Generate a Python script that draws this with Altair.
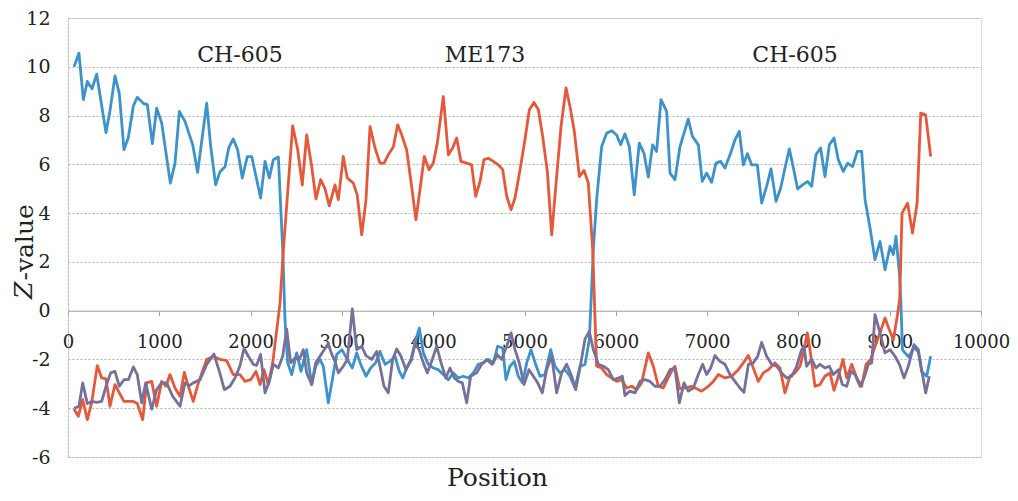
import altair as alt
import pandas as pd

# ---- series: blue (CH-605 probe) ----
blue_pos = [66, 120, 168, 212, 263, 314, 416, 460, 515, 562, 613, 661, 716, 759, 825, 869, 924, 971,
            1026, 1121, 1172, 1220, 1281, 1366, 1420, 1519, 1563, 1617, 1665, 1720, 1760, 1810, 1858,
            1909, 1964, 2012, 2110, 2158, 2205, 2249, 2304, 2352, 2377, 2406, 2450, 2505, 2552, 2614,
            2669, 2713, 2760, 2796, 2851, 2895, 2943, 3000, 3059, 3114, 3162, 3206, 3264, 3315, 3370,
            3417, 3472, 3527, 3582, 3629, 3666, 3710, 3764, 3811, 3848, 3892, 3946, 4001, 4056, 4111,
            4166, 4220, 4275, 4330, 4385, 4440, 4494, 4549, 4604, 4659, 4706, 4761, 4797, 4841, 4888,
            4932, 4980, 5024, 5071, 5122, 5170, 5224, 5287, 5334, 5389, 5444, 5498, 5553, 5608, 5663,
            5710, 5754, 5790, 5845, 5900, 5955, 6009, 6053, 6100, 6148, 6202, 6257, 6308, 6356, 6403,
            6447, 6495, 6557, 6594, 6648, 6703, 6747, 6794, 6838, 6904, 6947, 6995, 7049, 7097, 7148,
            7196, 7251, 7305, 7353, 7397, 7441, 7488, 7550, 7598, 7652, 7700, 7755, 7806, 7853, 7901,
            7945, 7992, 8046, 8101, 8145, 8192, 8243, 8291, 8339, 8390, 8437, 8492, 8540, 8594, 8645,
            8693, 8730, 8784, 8839, 8894, 8949, 9004, 9040, 9069, 9106, 9122, 9140, 9168, 9210, 9266,
            9314, 9350, 9405, 9449]
blue_val = [10.0, 10.56, 8.65, 9.4, 9.1, 9.7, 7.3, 8.2, 9.63, 8.9, 6.6, 7.1, 8.4, 8.75, 8.5, 8.45, 6.85, 8.3,
            7.7, 5.23, 6.05, 8.17, 7.76, 6.8, 5.67, 8.51, 6.73, 5.16, 5.7, 5.9, 6.67, 7.04, 6.6,
            5.44, 6.32, 6.32, 4.62, 6.12, 5.44, 6.19, 6.3, 2.5, -0.4, -2.14, -2.62, -1.73, -2.49, -1.6,
            -3.03, -2.28, -2.0, -2.28, -3.78, -2.83, -1.8, -1.6, -2.0, -2.35, -1.73, -2.2, -2.69, -2.35, -2.14,
            -1.67, -2.2, -2.08, -1.87, -2.49, -2.76, -2.35, -2.0, -1.19, -0.71, -1.73, -2.2, -2.35, -2.42, -2.62,
            -2.83, -2.55, -2.76, -2.69, -2.76, -2.55, -2.2, -2.14, -2.0, -2.14, -1.46, -1.53, -2.83, -2.28, -2.08,
            -2.69, -2.96, -2.14, -1.6, -2.2, -2.69, -2.62, -1.6, -2.28, -2.55, -2.42, -2.69, -3.17, -2.28, -2.2,
            -1.19, 2.5, 4.55, 6.73, 7.28, 7.38, 7.2, 6.8, 7.25, 6.73, 4.75, 6.87, 6.46, 5.48, 6.8,
            6.53, 8.65, 8.17, 5.64, 5.37, 6.73, 7.28, 7.86, 7.15, 6.8, 5.3, 5.64, 5.26, 6.05, 6.12,
            5.85, 6.39, 7.0, 7.35, 5.98, 6.44, 5.98, 5.98, 4.41, 5.1, 5.81, 4.48, 5.03, 5.85, 6.63,
            5.85, 4.99, 5.16, 5.3, 5.1, 6.39, 6.67, 5.5, 6.8, 7.08, 6.19, 5.71, 6.05, 5.91, 6.53,
            6.53, 4.55, 3.4, 2.09, 2.84, 1.68, 2.64, 2.3, 3.05, 1.54, 0.4, -1.6, -1.73, -1.9, -1.5,
            -1.7, -2.5, -2.69, -1.87]

# ---- series: red (ME173 probe) ----
red_pos = [66, 113, 161, 212, 259, 321, 369, 416, 460, 515, 562, 613, 716, 759, 818, 862, 917, 971,
           1026, 1073, 1117, 1172, 1227, 1274, 1318, 1372, 1428, 1519, 1592, 1665, 1738, 1810, 1884,
           1939, 2001, 2059, 2103, 2147, 2194, 2242, 2322, 2359, 2461, 2516, 2566, 2614, 2669, 2716,
           2768, 2815, 2862, 2924, 2961, 3015, 3059, 3125, 3168, 3217, 3264, 3308, 3363, 3417, 3461,
           3508, 3563, 3611, 3655, 3709, 3764, 3811, 3855, 3903, 3954, 4001, 4045, 4111, 4166, 4213,
           4257, 4304, 4367, 4421, 4465, 4513, 4556, 4604, 4659, 4714, 4761, 4805, 4852, 4896, 4951,
           5005, 5053, 5104, 5152, 5199, 5250, 5298, 5352, 5400, 5455, 5498, 5546, 5601, 5652, 5699,
           5747, 5790, 5845, 5900, 5955, 6009, 6064, 6119, 6174, 6228, 6283, 6356, 6411, 6466, 6520,
           6594, 6648, 6700, 6758, 6831, 6940, 7013, 7068, 7123, 7196, 7269, 7342, 7397, 7452, 7506,
           7561, 7616, 7671, 7743, 7798, 7853, 7908, 7963, 8018, 8054, 8098, 8127, 8182, 8236, 8291,
           8346, 8390, 8437, 8489, 8529, 8584, 8639, 8693, 8741, 8792, 8839, 8894, 8949, 8996, 9040,
           9084, 9110, 9135, 9196, 9250, 9300, 9340, 9394, 9449]
red_val = [-4.03, -4.33, -3.65, -4.47, -3.78, -2.25, -2.76, -2.8, -3.92, -3.03, -3.37, -3.72, -3.72, -3.81, -4.47, -2.96, -2.9, -3.92,
           -2.9, -3.1, -2.62, -3.17, -3.51, -2.53, -3.1, -3.72, -2.96, -2.0, -1.87, -2.0, -2.05, -2.62, -2.62,
           -2.9, -2.83, -2.49, -3.03, -2.42, -3.03, -2.14, 0.3, 2.5, 7.58, 6.6, 5.16, 7.21, 5.91, 4.58,
           5.37, 5.0, 4.3, 5.16, 4.55, 6.32, 5.44, 5.23, 4.74, 3.11, 4.55, 7.55, 6.67, 6.05, 6.05,
           6.39, 6.71, 7.62, 7.21, 6.6, 5.09, 3.73, 4.96, 6.32, 5.78, 6.05, 6.87, 8.78, 6.39, 6.67,
           7.08, 6.12, 6.05, 5.98, 4.69, 5.3, 6.19, 6.25, 6.12, 5.98, 5.78, 4.69, 4.14, 4.62, 5.78,
           7.01, 8.24, 8.54, 8.24, 7.14, 5.71, 3.11, 5.5, 7.55, 9.13, 8.37, 7.35, 5.5, 5.75, 5.23,
           2.5, -2.28, -2.35, -2.62, -2.76, -2.9, -2.83, -3.17, -3.1, -3.24, -2.96, -1.73, -2.28, -3.1, -3.17,
           -2.6, -2.28, -3.2, -3.17, -3.1, -3.3, -3.1, -2.9, -2.62, -2.76, -2.69, -2.42, -2.14, -1.84, -2.35,
           -2.9, -2.55, -2.42, -2.14, -2.35, -3.37, -2.69, -2.55, -2.28, -1.73, -0.91, -1.6, -3.1, -3.03, -2.69,
           -2.55, -3.27, -2.69, -2.0, -2.76, -2.2, -2.76, -3.1, -2.2, -2.0, -1.46, -0.91, -0.3, -0.78, -1.19,
           -0.2, 0.5, 4.0, 4.41, 3.18, 4.41, 8.1, 8.03, 6.32]

# ---- series: purple (control) ----
purple_pos = [66, 120, 161, 212, 259, 314, 369, 416, 467, 515, 562, 613, 661, 716, 759, 807, 851, 917,
              971, 1026, 1081, 1146, 1227, 1281, 1329, 1372, 1446, 1519, 1599, 1665, 1712, 1774, 1829,
              1884, 1928, 1975, 2030, 2066, 2110, 2158, 2205, 2249, 2304, 2352, 2395, 2439, 2486, 2534,
              2577, 2614, 2669, 2713, 2760, 2851, 2880, 2924, 2961, 3015, 3060, 3114, 3162, 3217, 3264,
              3326, 3381, 3417, 3461, 3508, 3556, 3600, 3647, 3702, 3757, 3801, 3845, 3892, 3936, 3990,
              4038, 4085, 4137, 4184, 4231, 4275, 4319, 4367, 4410, 4476, 4531, 4586, 4647, 4702, 4749,
              4805, 4852, 4896, 4943, 4995, 5049, 5097, 5144, 5195, 5242, 5298, 5352, 5407, 5462, 5517,
              5561, 5615, 5663, 5710, 5754, 5809, 5864, 5918, 5973, 6028, 6072, 6100, 6155, 6210, 6265,
              6320, 6374, 6429, 6484, 6539, 6594, 6648, 6696, 6747, 6794, 6849, 6904, 6951, 6995, 7039,
              7086, 7141, 7196, 7251, 7305, 7360, 7404, 7452, 7506, 7554, 7598, 7652, 7707, 7762, 7816,
              7871, 7926, 7981, 8035, 8061, 8090, 8145, 8192, 8236, 8291, 8339, 8383, 8437, 8481, 8529,
              8576, 8620, 8675, 8719, 8766, 8803, 8839, 8894, 8949, 9004, 9058, 9106, 9157, 9204, 9266,
              9314, 9350, 9394, 9434]
purple_val = [-4.0, -3.92, -2.96, -3.81, -3.72, -3.76, -3.72, -3.1, -2.55, -2.49, -3.1, -2.83, -2.83, -2.31, -2.62, -3.78, -2.96, -4.04,
              -3.24, -2.96, -2.96, -3.51, -3.92, -2.96, -3.07, -2.96, -2.83, -2.2, -1.78, -2.58, -3.24, -3.1, -2.76,
              -2.26, -1.54, -1.87, -2.2, -2.24, -1.8, -3.37, -2.9, -2.2, -2.35, -1.87, -0.75, -2.14, -1.94, -2.0,
              -1.6, -2.55, -3.03, -2.14, -1.87, -1.35, -1.7, -2.08, -2.55, -2.28, -2.0, 0.07, -1.6, -1.46, -1.84,
              -2.0, -1.67, -2.28, -3.1, -3.37, -2.0, -1.57, -1.87, -2.42, -2.0, -1.32, -1.6, -2.14, -2.55, -2.0,
              -1.46, -2.12, -2.76, -2.35, -2.76, -2.9, -2.96, -3.78, -2.69, -2.55, -2.2, -2.0, -2.2, -1.8, -2.0,
              -1.46, -0.91, -1.6, -2.14, -3.03, -2.42, -2.69, -2.96, -3.37, -2.42, -1.87, -3.37, -2.55, -2.2, -2.69,
              -3.24, -2.2, -1.16, -0.85, -1.6, -2.2, -2.28, -2.42, -2.83, -2.76, -2.69, -3.48, -3.3, -3.37, -2.9,
              -2.83, -2.9, -3.1, -3.1, -2.83, -2.42, -2.35, -3.78, -2.96, -3.3, -3.17, -2.62, -2.2, -2.62, -2.35,
              -1.84, -2.08, -2.2, -2.62, -2.9, -3.17, -3.35, -2.2, -2.14, -1.87, -1.3, -1.87, -2.2, -2.28, -2.55,
              -2.76, -2.69, -2.28, -1.6, -1.46, -2.28, -2.0, -2.35, -2.2, -2.35, -2.28, -2.62, -2.42, -3.03, -3.1,
              -2.48, -2.62, -3.1, -2.76, -2.2, -2.14, -0.16, -0.91, -1.73, -1.6, -1.87, -2.2, -2.76, -2.28, -1.39,
              -1.6, -2.42, -3.37, -2.69]

# ---- region labels ----
region_labels = ["CH-605", "ME173", "CH-605"]
region_pos = [1884, 4567, 7963]
region_val = [10.5, 10.5, 10.5]

y_ticks = [-6, -4, -2, 0, 2, 4, 6, 8, 10, 12]
x_ticks = [0, 1000, 2000, 3000, 4000, 5000, 6000, 7000, 8000, 9000, 10000]

SERIF = "DejaVu Serif"
TXT = "#222222"

x_enc = alt.X(
    "pos:Q",
    scale=alt.Scale(domain=[0, 10000], nice=False),
    axis=alt.Axis(
        values=x_ticks, offset=-146.33, grid=False,
        domainColor="#a8a8a8", tickColor="#a8a8a8", tickSize=5,
        labelPadding=18, labelFont=SERIF, labelFontSize=18, labelColor=TXT,
        labelFlush=False, format="d",
        title="Position", titleFont=SERIF, titleFontSize=25, titleFontWeight="normal",
        titleColor=TXT, titleX=429, titleY=175, titleBaseline="alphabetic", titleAlign="center",
    ),
)
y_enc = alt.Y(
    "val:Q",
    scale=alt.Scale(domain=[-6, 12], nice=False),
    axis=alt.Axis(
        values=y_ticks, grid=True, gridColor="#b4b4b4", gridDash=[2, 2], gridWidth=1,
        domain=True, domainColor="#b4b4b4", domainDash=[2, 2], ticks=False,
        labelPadding=18, labelFont=SERIF, labelFontSize=19, labelColor=TXT,
        labelExpr="'' + datum.value",
        title="-value", titleFont=SERIF, titleFontSize=25, titleFontWeight="normal",
        titleColor=TXT, titleX=-36, titleY=262, titleAngle=270,
        titleBaseline="alphabetic", titleAlign="left",
    ),
)


def series(pos, val, color):
    df = pd.DataFrame({"pos": pos, "val": val})
    return alt.Chart(df).mark_line(color=color, strokeWidth=2.8, strokeJoin="round").encode(x=x_enc, y=y_enc)


blue = series(blue_pos, blue_val, "#3c92cc")
red = series(red_pos, red_val, "#e6583a")
purple = series(purple_pos, purple_val, "#76709a")

labels = alt.Chart(pd.DataFrame({"pos": region_pos, "val": region_val, "label": region_labels})).mark_text(
    font=SERIF, fontSize=22, color=TXT, baseline="middle", align="center"
).encode(x=x_enc, y=y_enc, text="label:N")

# italic "Z" that starts the y-axis title "Z-value"
z_letter = alt.Chart(pd.DataFrame({"t": ["Z"]})).mark_text(
    font=SERIF, fontStyle="italic", fontSize=25, color=TXT, angle=270,
    align="left", baseline="alphabetic"
).encode(x=alt.value(-36), y=alt.value(281), text="t:N")

chart = alt.layer(blue, red, purple, labels, z_letter).properties(
    width=913, height=439,
    padding={"left": 60, "top": 10, "right": 29, "bottom": 36},
    autosize=alt.AutoSizeParams(type="none"),
).configure_view(stroke=None).configure(background="white")

chart.save("out.html", embed_options={"renderer": "svg", "actions": False})
